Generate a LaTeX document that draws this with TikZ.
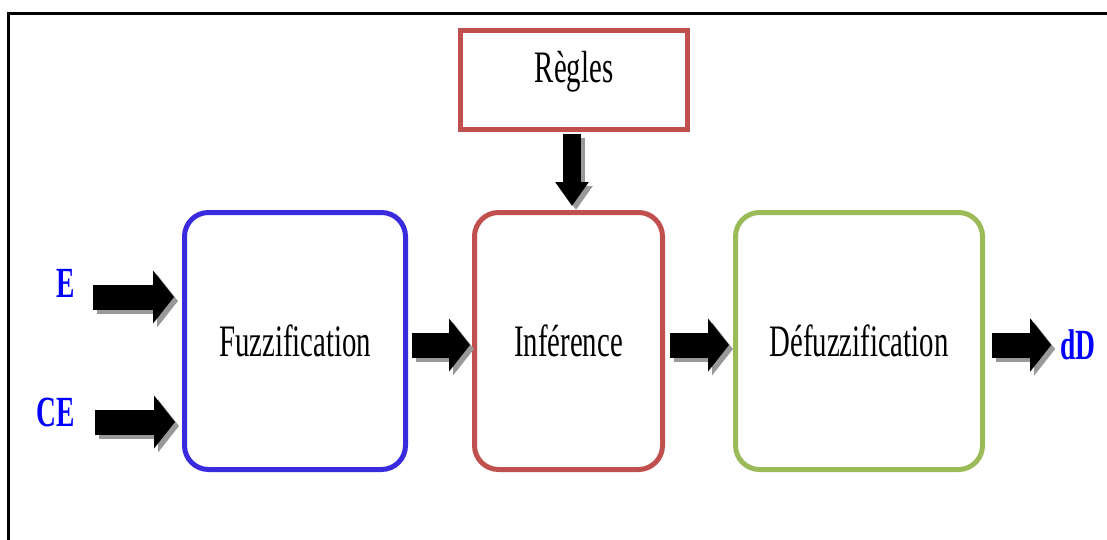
\documentclass[tikz,border=0pt]{standalone}
\usepackage{fontspec}
\setmainfont{Liberation Serif}
\usetikzlibrary{arrows.meta,positioning}
\definecolor{fuzzblue}{RGB}{58,42,222}
\definecolor{infred}{RGB}{192,80,77}
\definecolor{defgreen}{RGB}{155,187,89}
% narrow type, as in the boxes
\newcommand{\narrow}[1]{\scalebox{0.64}[1]{#1}}
\tikzset{
  block/.style={draw,line width=5pt,rounded corners=24pt,minimum height=257pt,inner sep=0pt},
  boxtext/.style={font=\fontsize{45}{50}\selectfont},
  io/.style={font=\fontsize{43}{48}\selectfont\bfseries,text=blue,inner sep=2pt},
  flow/.style={line width=25pt,-{Triangle[length=21pt,width=52pt]},black},
  flowdown/.style={line width=18pt,-{Triangle[length=24pt,width=32pt]},black},
  shadowed/.style={black!40,transform canvas={xshift=4pt,yshift=-4pt}},
  plain/.style={black},
}
\begin{document}
\begin{tikzpicture}[x=1pt,y=-1pt]
\useasboundingbox (0,0) rectangle (1107,540);
\clip (0,0) rectangle (1107,540);
%frame
\draw[line width=3pt] (8.5,560)--(8.5,13.5)--(1120,13.5);
%blocks
\node[draw=infred,line width=5pt,minimum width=227pt,minimum height=99pt] (regles) at (574,80) {};
\node[boxtext] (reglestxt) at (574,72) {\narrow{Règles}};
\node[block,draw=fuzzblue,minimum width=221pt,boxtext] (fuzz) at (295,341) {\narrow{Fuzzification}};
\node[block,draw=infred,minimum width=188pt,boxtext] (infer) at (568.5,341) {\narrow{Inférence}};
\node[block,draw=defgreen,minimum width=247pt,boxtext] (defuzz) at (859,341) {\narrow{Défuzzification}};
%inputs and output
\node[io] (e) at (66,283) {\narrow{E}};
\node[io] (ce) at (56,412) {\narrow{CE}};
\node[io] (dd) at (1078,345) {\narrow{dD}};
\coordinate (ein) at (93,297);
\coordinate (cein) at (95,422);
%arrows, shadow first
\foreach \s in {shadowed,plain}{
\draw[flow,\s,shorten >=8pt] (ein)--(ein -| fuzz.west);
\draw[flow,\s,shorten >=7pt] (cein)--(cein -| fuzz.west);
\draw[flow,\s,shorten <=4pt,shorten >=2pt] ([yshift=-4pt]fuzz.east)--([yshift=-4pt]infer.west);
\draw[flow,\s,shorten <=5pt,shorten >=4pt] ([yshift=-4pt]infer.east)--([yshift=-4pt]defuzz.west);
\draw[flow,\s,shorten <=7pt,shorten >=7pt] ([yshift=-4pt]defuzz.east)--(dd.west);
\draw[flowdown,\s,shorten <=2pt,shorten >=4pt] ([xshift=-2pt]regles.south)--([xshift=-2pt]regles.south |- infer.north);
}
\end{tikzpicture}
\end{document}
